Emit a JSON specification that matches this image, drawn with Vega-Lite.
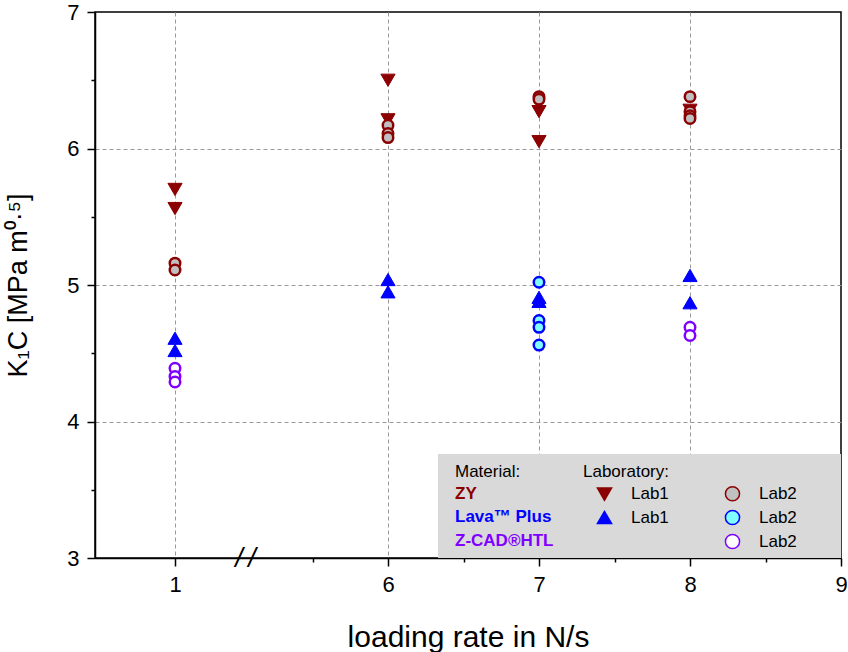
{
  "$schema": "https://vega.github.io/schema/vega-lite/v6.json",
  "width": 746,
  "height": 546,
  "autosize": "none",
  "padding": {"left": 95, "top": 12, "right": 7, "bottom": 94},
  "background": "white",
  "config": {
    "font": "Liberation Sans",
    "view": {"stroke": "black", "strokeWidth": 1.5},
    "axis": {
      "domainColor": "black", "domainWidth": 1.5,
      "tickColor": "black", "tickWidth": 1.5,
      "labelFont": "Liberation Sans", "labelFontSize": 22, "labelColor": "black",
      "titleFont": "Liberation Sans", "titleFontSize": 30, "titleFontWeight": "normal", "titleColor": "black",
      "gridColor": "#999999", "gridDash": [4, 3], "gridWidth": 1,
      "labelOverlap": false, "labelFlush": false, "labelPadding": 8
    },
    "legend": {"labelFont": "Liberation Sans", "titleFont": "Liberation Sans"}
  },
  "data": {"values": [
    {"rate": 1, "k": 5.70, "material": "ZY", "lab": "Lab1", "series": "ZY Lab1"},
    {"rate": 1, "k": 5.56, "material": "ZY", "lab": "Lab1", "series": "ZY Lab1"},
    {"rate": 6, "k": 6.50, "material": "ZY", "lab": "Lab1", "series": "ZY Lab1"},
    {"rate": 6, "k": 6.21, "material": "ZY", "lab": "Lab1", "series": "ZY Lab1"},
    {"rate": 7, "k": 6.27, "material": "ZY", "lab": "Lab1", "series": "ZY Lab1"},
    {"rate": 7, "k": 6.05, "material": "ZY", "lab": "Lab1", "series": "ZY Lab1"},
    {"rate": 8, "k": 6.28, "material": "ZY", "lab": "Lab1", "series": "ZY Lab1"},
    {"rate": 1, "k": 5.16, "material": "ZY", "lab": "Lab2", "series": "ZY Lab2"},
    {"rate": 1, "k": 5.11, "material": "ZY", "lab": "Lab2", "series": "ZY Lab2"},
    {"rate": 6, "k": 6.17, "material": "ZY", "lab": "Lab2", "series": "ZY Lab2"},
    {"rate": 6, "k": 6.11, "material": "ZY", "lab": "Lab2", "series": "ZY Lab2"},
    {"rate": 6, "k": 6.08, "material": "ZY", "lab": "Lab2", "series": "ZY Lab2"},
    {"rate": 7, "k": 6.38, "material": "ZY", "lab": "Lab2", "series": "ZY Lab2"},
    {"rate": 7, "k": 6.36, "material": "ZY", "lab": "Lab2", "series": "ZY Lab2"},
    {"rate": 8, "k": 6.38, "material": "ZY", "lab": "Lab2", "series": "ZY Lab2"},
    {"rate": 8, "k": 6.27, "material": "ZY", "lab": "Lab2", "series": "ZY Lab2"},
    {"rate": 8, "k": 6.24, "material": "ZY", "lab": "Lab2", "series": "ZY Lab2"},
    {"rate": 8, "k": 6.22, "material": "ZY", "lab": "Lab2", "series": "ZY Lab2"},
    {"rate": 1, "k": 4.61, "material": "Lava™ Plus", "lab": "Lab1", "series": "Lava Lab1"},
    {"rate": 1, "k": 4.52, "material": "Lava™ Plus", "lab": "Lab1", "series": "Lava Lab1"},
    {"rate": 6, "k": 5.04, "material": "Lava™ Plus", "lab": "Lab1", "series": "Lava Lab1"},
    {"rate": 6, "k": 4.95, "material": "Lava™ Plus", "lab": "Lab1", "series": "Lava Lab1"},
    {"rate": 7, "k": 4.91, "material": "Lava™ Plus", "lab": "Lab1", "series": "Lava Lab1"},
    {"rate": 7, "k": 4.88, "material": "Lava™ Plus", "lab": "Lab1", "series": "Lava Lab1"},
    {"rate": 8, "k": 5.07, "material": "Lava™ Plus", "lab": "Lab1", "series": "Lava Lab1"},
    {"rate": 8, "k": 4.87, "material": "Lava™ Plus", "lab": "Lab1", "series": "Lava Lab1"},
    {"rate": 7, "k": 5.02, "material": "Lava™ Plus", "lab": "Lab2", "series": "Lava Lab2"},
    {"rate": 7, "k": 4.74, "material": "Lava™ Plus", "lab": "Lab2", "series": "Lava Lab2"},
    {"rate": 7, "k": 4.69, "material": "Lava™ Plus", "lab": "Lab2", "series": "Lava Lab2"},
    {"rate": 7, "k": 4.56, "material": "Lava™ Plus", "lab": "Lab2", "series": "Lava Lab2"},
    {"rate": 1, "k": 4.39, "material": "Z-CAD®HTL", "lab": "Lab2", "series": "Z-CAD Lab2"},
    {"rate": 1, "k": 4.33, "material": "Z-CAD®HTL", "lab": "Lab2", "series": "Z-CAD Lab2"},
    {"rate": 1, "k": 4.29, "material": "Z-CAD®HTL", "lab": "Lab2", "series": "Z-CAD Lab2"},
    {"rate": 8, "k": 4.69, "material": "Z-CAD®HTL", "lab": "Lab2", "series": "Z-CAD Lab2"},
    {"rate": 8, "k": 4.63, "material": "Z-CAD®HTL", "lab": "Lab2", "series": "Z-CAD Lab2"}
  ]},
  "layer": [
    {
      "data": {"values": [{}]},
      "mark": {"type": "rect", "fill": "#D9D9D9"},
      "encoding": {
        "x": {"datum": 6.331, "type": "quantitative", "scale": {"domain": [0.47, 1, 5.5, 9], "range": [0, 80, 217.5, 746], "nice": false, "zero": false},
          "axis": {
            "values": [1, 3.29, 5.5, 6, 6.5, 7, 7.5, 8, 8.5, 9],
            "title": "loading rate in N/s",
            "titlePadding": 27,
            "grid": true,
            "labelExpr": "datum.value == 3.29 ? '/\u2009/' : (datum.value % 1 == 0 ? format(datum.value, 'd') : '')",
            "tickSize": {"condition": {"test": "datum.value % 1 != 0", "value": 4}, "value": 8},
            "tickOpacity": {"condition": {"test": "datum.value == 3.29", "value": 0}, "value": 1},
            "gridOpacity": {"condition": {"test": "datum.value == 1 || datum.value == 6 || datum.value == 7 || datum.value == 8", "value": 1}, "value": 0},
            "labelFontSize": {"condition": {"test": "datum.value == 3.29", "value": 27}, "value": 22},
            "labelFontStyle": {"condition": {"test": "datum.value == 3.29", "value": "italic"}, "value": "normal"},
            "labelPadding": {"condition": {"test": "datum.value == 3.29", "value": -4}, "value": 8},
            "labelBaseline": {"condition": {"test": "datum.value == 3.29", "value": "middle"}, "value": "top"}
          }
        },
        "x2": {"datum": 9},
        "y": {"datum": 3, "type": "quantitative", "scale": {"domain": [3, 7], "nice": false, "zero": false},
          "axis": {
            "values": [3, 3.5, 4, 4.5, 5, 5.5, 6, 6.5, 7],
            "title": "K₁C [MPa m⁰·⁵]",
            "titleFontSize": 27,
            "titlePadding": 34,
            "grid": true,
            "labelExpr": "datum.value % 1 == 0 ? format(datum.value, 'd') : ''",
            "tickSize": {"condition": {"test": "datum.value % 1 != 0", "value": 4}, "value": 8},
            "gridOpacity": {"condition": {"test": "datum.value == 4 || datum.value == 5 || datum.value == 6", "value": 1}, "value": 0}
          }
        },
        "y2": {"datum": 3.762}
      }
    },
    {
      "mark": {"type": "point", "opacity": 0, "size": 0},
      "encoding": {
        "color": {
          "field": "material", "type": "nominal",
          "scale": {"domain": ["ZY", "Lava™ Plus", "Z-CAD®HTL"], "range": ["#8B0000", "#0000FF", "#8000FF"]},
          "legend": {
            "title": "Material:", "orient": "none", "legendX": 360, "legendY": 452,
            "symbolSize": 0, "symbolOpacity": 0, "labelOffset": -17,
            "labelFontSize": 17, "labelFontWeight": "bold",
            "titleFontSize": 17, "titleFontWeight": "normal", "titlePadding": 4, "rowPadding": 5.5,
            "labelColor": {"expr": "datum.value == 'ZY' ? '#8B0000' : (datum.value == 'Z-CAD®HTL' ? '#8000FF' : '#0000FF')"}
          }
        }
      }
    },
    {
      "transform": [{"filter": "datum.lab == 'Lab1'"}],
      "mark": {"type": "point", "filled": true, "size": 200, "strokeWidth": 1, "opacity": 1},
      "encoding": {
        "x": {"field": "rate", "type": "quantitative", "scale": {"domain": [0.47, 1, 5.5, 9], "range": [0, 80, 217.5, 746], "nice": false, "zero": false}},
        "y": {"field": "k", "type": "quantitative", "scale": {"domain": [3, 7], "nice": false, "zero": false}},
        "shape": {
          "field": "series", "type": "nominal",
          "scale": {"domain": ["ZY Lab1", "Lava Lab1", "Z-CAD Lab1", "ZY Lab2", "Lava Lab2", "Z-CAD Lab2"], "range": ["triangle-down", "triangle-up", "circle", "circle", "circle", "circle"]},
          "legend": {
            "title": "Laboratory:", "orient": "none", "legendX": 488, "legendY": 452,
            "columns": 2, "columnPadding": 42, "rowPadding": 3,
            "symbolSize": 200, "symbolOffset": 13, "labelOffset": 18,
            "labelFontSize": 17, "titleFontSize": 17, "titleFontWeight": "normal", "titlePadding": 4,
            "labelExpr": "datum.value == 'Z-CAD Lab1' ? '' : slice(datum.value, -4)"
          }
        },
        "fill": {
          "field": "series", "type": "nominal",
          "scale": {"domain": ["ZY Lab1", "Lava Lab1", "Z-CAD Lab1", "ZY Lab2", "Lava Lab2", "Z-CAD Lab2"], "range": ["#8B0000", "#0000FF", "transparent", "#C0C0C0", "#80FFFF", "#FFFFFF"]}
        },
        "stroke": {
          "field": "series", "type": "nominal",
          "scale": {"domain": ["ZY Lab1", "Lava Lab1", "Z-CAD Lab1", "ZY Lab2", "Lava Lab2", "Z-CAD Lab2"], "range": ["#8B0000", "#0000FF", "transparent", "#8B0000", "#0000FF", "#8000FF"]}
        }
      }
    },
    {
      "transform": [{"filter": "datum.lab == 'Lab2'"}],
      "mark": {"type": "point", "filled": true, "size": 110, "strokeWidth": 2.5, "opacity": 1},
      "encoding": {
        "x": {"field": "rate", "type": "quantitative", "scale": {"domain": [0.47, 1, 5.5, 9], "range": [0, 80, 217.5, 746], "nice": false, "zero": false}},
        "y": {"field": "k", "type": "quantitative", "scale": {"domain": [3, 7], "nice": false, "zero": false}},
        "shape": {
          "field": "series", "type": "nominal",
          "scale": {"domain": ["ZY Lab1", "Lava Lab1", "Z-CAD Lab1", "ZY Lab2", "Lava Lab2", "Z-CAD Lab2"], "range": ["triangle-down", "triangle-up", "circle", "circle", "circle", "circle"]}
        },
        "fill": {
          "field": "series", "type": "nominal",
          "scale": {"domain": ["ZY Lab1", "Lava Lab1", "Z-CAD Lab1", "ZY Lab2", "Lava Lab2", "Z-CAD Lab2"], "range": ["#8B0000", "#0000FF", "transparent", "#C0C0C0", "#80FFFF", "#FFFFFF"]}
        },
        "stroke": {
          "field": "series", "type": "nominal",
          "scale": {"domain": ["ZY Lab1", "Lava Lab1", "Z-CAD Lab1", "ZY Lab2", "Lava Lab2", "Z-CAD Lab2"], "range": ["#8B0000", "#0000FF", "transparent", "#8B0000", "#0000FF", "#8000FF"]}
        }
      }
    }
  ]
}
